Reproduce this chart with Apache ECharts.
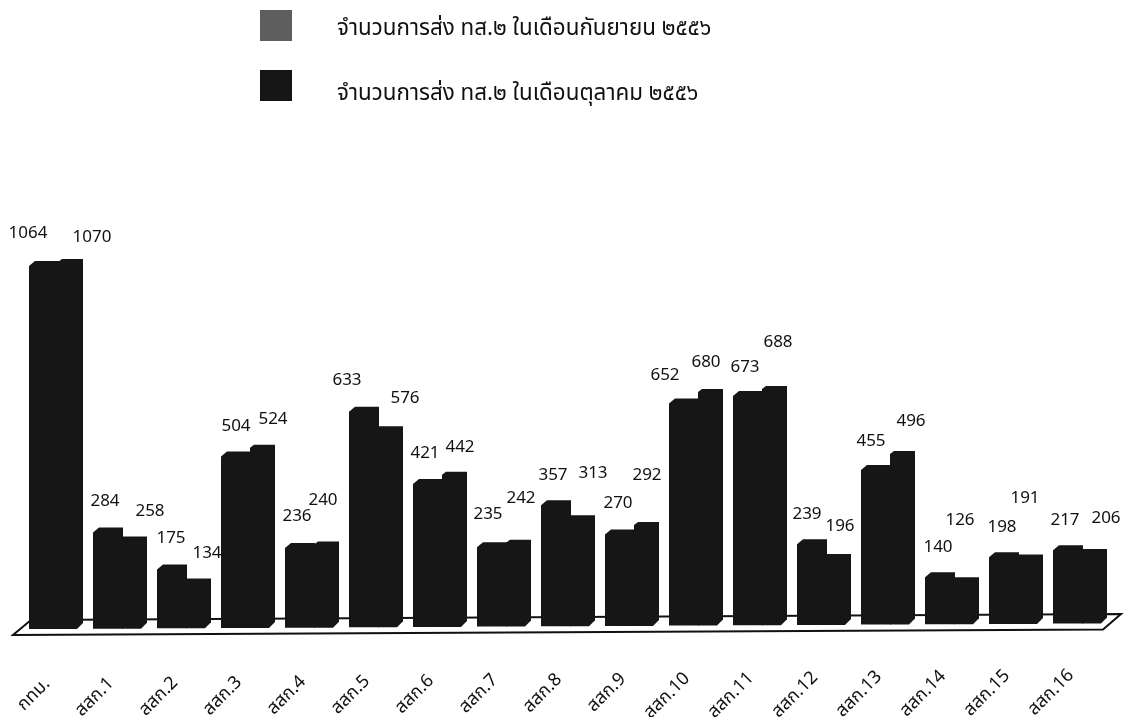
<!DOCTYPE html>
<html><head><meta charset="utf-8">
<style>html,body{margin:0;padding:0;background:#fff}#c{width:1128px;height:717px}</style>
<script src="https://cdn.jsdelivr.net/npm/echarts@6/dist/echarts.min.js"></script>
</head><body><div id="c"></div>
<script>
const categories = ['กทม.','สสก.1','สสก.2','สสก.3','สสก.4','สสก.5','สสก.6','สสก.7','สสก.8','สสก.9','สสก.10','สสก.11','สสก.12','สสก.13','สสก.14','สสก.15','สสก.16'];
const september = [1064,284,175,504,236,633,421,235,357,270,652,673,239,455,140,198,217];
const october = [1070,258,134,524,240,576,442,242,313,292,680,688,196,496,126,191,206];
const nameSep = 'จำนวนการส่ง ทส.๒ ในเดือนกันยายน ๒๕๕๖';
const nameOct = 'จำนวนการส่ง ทส.๒ ในเดือนตุลาคม ๒๕๕๖';
// hand-placed label offsets from each bar's top centre, as in the scan
const sepLabelOffset = [[-16,-28],[-3,-26],[-1,-26],[0,-25],[-3,-27],[-17,-27],[-3,-26],[-4,-28],[-3,-25],[-2,-26],[-19,-23],[-3,-24],[-5,-25],[-5,-24],[-2,-25],[-2,-25],[-3,-25]];
const octLabelOffset = [[21,-22],[15,-25],[8,-25],[10,-26],[-4,-41],[14,-28],[5,-25],[2,-42],[10,-42],[0,-47],[-5,-27],[3,-44],[1,-28],[8,-30],[-7,-57],[-6,-56],[11,-31]];

const FONT = '"Noto Sans","Noto Sans Thai","Loma","Garuda",sans-serif';
const INK = '#161616';
const TILT = 0.34, LIFT = 4, W1 = 30, W2 = 24;

function labelEl(text, x, y, off){
  return {type:'text', z2:10, style:{text:String(text), x:x+off[0], y:y+off[1], align:'center', verticalAlign:'middle', font:'17px '+FONT, fill:'#111'}};
}
function renderFirst(params, api){
  const i = api.value(0), c = api.coord([i, api.value(1)]), b = api.coord([i, 0]);
  const tilt = TILT*i, base = b[1]-tilt, top = c[1]-LIFT-tilt;
  const x0 = Math.round(c[0]-api.size([1,0])[0]/2+5), x1 = x0+W1;
  const lx = c[0]-9, ly = b[1]+52-tilt*1.6;
  return {type:'group', children:[
    {type:'polygon', shape:{points:[[x0,base],[x0,top+5],[x0+6,top],[x1,top],[x1,base]]}, style:{fill:INK}},
    labelEl(september[i], x0+W1/2, top, sepLabelOffset[i]),
    {type:'text', style:{text:categories[i], x:lx, y:ly, align:'right', verticalAlign:'middle', font:'18px '+FONT, fill:'#111'}, rotation:Math.PI/4, originX:lx, originY:ly}
  ]};
}
function renderSecond(params, api){
  const i = api.value(0), v = api.value(1), c = api.coord([i, v]), b = api.coord([i, 0]);
  const tilt = TILT*i, base = b[1]-tilt, top = c[1]-LIFT-tilt;
  const xs = Math.round(c[0]-api.size([1,0])[0]/2+5)+W1, x1 = xs+W2;
  const pts = v > september[i]
    ? [[xs-1,base],[xs-1,top+3],[xs+3,top],[x1,top],[x1,base-6],[x1-6,base]]
    : [[xs-1,base],[xs-1,top],[x1,top],[x1,base-6],[x1-6,base]];
  return {type:'group', children:[
    {type:'polygon', shape:{points:pts}, style:{fill:INK}},
    labelEl(october[i], xs+W2/2, top, octLabelOffset[i])
  ]};
}
const chart = echarts.init(document.getElementById('c'), null, {renderer:'canvas'});
chart.setOption({
  animation:false,
  backgroundColor:'#fff',
  grid:{left:24, width:1088, top:218.6, height:410.4},
  xAxis:{type:'category', data:categories, axisLine:{show:false}, axisTick:{show:false}, axisLabel:{show:false}, splitLine:{show:false}},
  yAxis:{type:'value', min:0, max:1200, show:false},
  legend:{left:255, top:5, orient:'vertical', itemWidth:32, itemHeight:31, itemGap:29, icon:'rect',
    formatter:function(n){ return (n===nameSep?'{a|':'{b|')+n+'}'; },
    textStyle:{fontFamily:FONT, fontSize:22.4, color:'#111', padding:[0,0,0,40],
      rich:{a:{fontFamily:FONT, fontSize:22.4, color:'#111', padding:[6,0,0,0]}, b:{fontFamily:FONT, fontSize:22.4, color:'#111', padding:[16,0,0,0]}}},
    data:[{name:nameSep, itemStyle:{color:'#5e5e5e'}},{name:nameOct, itemStyle:{color:INK}}], selectedMode:false},
  graphic:[{type:'polygon', z:0, shape:{points:[[13,635],[1103,629.5],[1121,614],[31,620]]}, style:{fill:'#fff', stroke:'#111', lineWidth:2}}],
  series:[
    {name:nameSep, type:'custom', z:3, clip:false, itemStyle:{color:INK}, encode:{x:0,y:1}, data:september.map((v,i)=>[i,v]), renderItem:renderFirst},
    {name:nameOct, type:'custom', z:4, clip:false, itemStyle:{color:INK}, encode:{x:0,y:1}, data:october.map((v,i)=>[i,v]), renderItem:renderSecond}
  ]
});
</script></body></html>
